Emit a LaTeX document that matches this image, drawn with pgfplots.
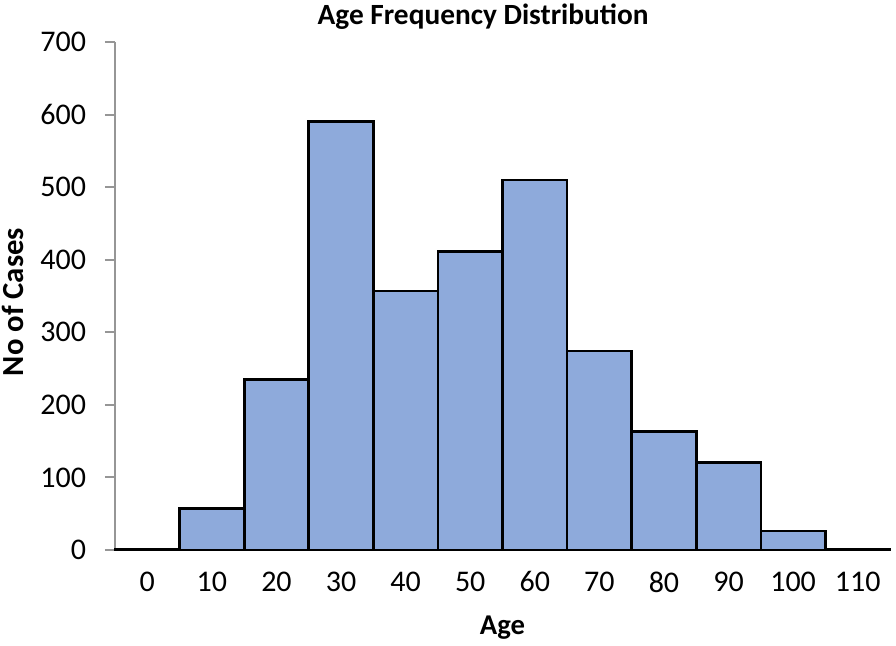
\documentclass[border=0pt]{standalone}
\usepackage{fontspec}
\setmainfont{Carlito}
\usepackage{pgfplots}
\pgfplotsset{compat=1.18}
\definecolor{barblue}{RGB}{142,170,219}
\definecolor{axgray}{RGB}{150,150,150}

\begin{document}
\begin{tikzpicture}
% page frame = 896x646 px at 0.75pt per px
\path[use as bounding box] (-86.25pt,-72pt) rectangle (585.75pt,412.5pt);
\begin{axis}[
    scale only axis,
    width=581.25pt,
    height=381pt,
    xmin=-5, xmax=115,
    ymin=0, ymax=700,
    ytick={0,100,...,700},
    xtick={0,10,...,110},
    axis lines*=left,
    axis line style={axgray, line width=1.4pt, -},
    major tick length=7.5pt,
    tick style={axgray, line width=1.4pt},
    xtick style={draw=none},
    ytick align=outside,
    tick label style={font=\fontsize{22.5}{26}\selectfont, inner sep=0pt},
    /pgf/number format/assume math mode=true,
    yticklabel style={anchor=east, xshift=-14pt},
    xticklabel style={anchor=north, yshift=-16pt},
    xlabel={\textbf{Age}},
    xlabel style={font=\fontsize{21.5}{26}\selectfont, at={(axis description cs:0.5,-0.1535)}, anchor=center},
    ylabel={\textbf{No of Cases}},
    ylabel style={font=\fontsize{23}{26}\selectfont, at={(axis description cs:-0.1316,0.488)}, anchor=center},
    clip=false,
]
\addplot[ybar, bar width=10, fill=barblue, draw=black, line width=2pt]
  coordinates {
    (0,1.5) (10,57) (20,235) (30,590) (40,357) (50,411)
    (60,510) (70,274) (80,163) (90,121) (100,26) (110,1.5)
  };
\node[anchor=base, inner sep=0pt, font=\fontsize{22}{26}\selectfont\bfseries]
  at (rel axis cs:0.475,1.0335) {Age Frequency Distribution};
\end{axis}
\end{tikzpicture}
\end{document}
